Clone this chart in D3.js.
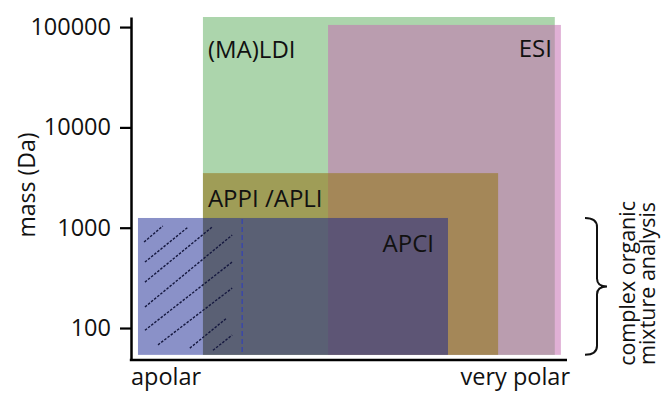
<!DOCTYPE html>
<html>
<head>
  <title>Ionization techniques</title>
  <script src="https://d3js.org/d3.v7.min.js"></script>
  <style>
    body { margin: 0; background: #fff; }
    text { font-family: "Open Sans", "Noto Sans", sans-serif; fill: #111; }
  </style>
</head>
<body>
  <div id="chart"></div>

  <script>
    // ionization regions: polarity (0 = apolar .. 100 = very polar) and mass (Da)
    const techniques = ["(MA)LDI", "ESI", "APPI /APLI", "APCI"];
    const polarFrom = [16.5, 45.2, 16.5, 1.6];
    const polarTo = [97.2, 98.6, 84.2, 72.7];
    const massTop = [126000, 105000, 3500, 1250];
    const massBottom = [54, 54, 54, 54];
    const fills = ["#acd5ac", "rgb(199,111,179)", "rgb(150,120,30)", "rgb(21,35,145)"];
    const opacities = [1, 0.55, 0.6, 0.5];

    const massTicks = [100, 1000, 10000, 100000];
    const polarLabels = ["apolar", "very polar"];

    // hand-drawn hatch strokes in the apolar corner: [polarity, mass] pairs
    const hatchLines = [
      [[3.0, 720], [7.3, 1040]],
      [[3.2, 455], [13.1, 1015]],
      [[3.2, 287], [18.6, 1015]],
      [[3.2, 162], [23.2, 845]],
      [[3.2, 95], [23.2, 455]],
      [[6.2, 68], [23.2, 250]],
      [[13.5, 63], [22.0, 126]],
      [[18.8, 60], [23.2, 85]]
    ];
    const dashedPolarity = 25.5;
    const dashedMass = [1220, 56];

    const width = 662;
    const height = 394;

    const svg = d3.select("#chart")
      .append("svg")
      .attr("width", width)
      .attr("height", height);

    const xScale = d3.scaleLinear()
      .domain([0, 100])
      .range([131, 567]);

    const yScale = d3.scaleLog()
      .domain([48, 126000])
      .range([360, 17]);

    // boxes
    svg.selectAll("rect.region")
      .data(techniques)
      .enter()
      .append("rect")
      .attr("class", "region")
      .attr("x", (d, i) => xScale(polarFrom[i]))
      .attr("y", (d, i) => yScale(massTop[i]))
      .attr("width", (d, i) => xScale(polarTo[i]) - xScale(polarFrom[i]))
      .attr("height", (d, i) => yScale(massBottom[i]) - yScale(massTop[i]))
      .attr("fill", (d, i) => fills[i])
      .attr("fill-opacity", (d, i) => opacities[i]);

    // hatching
    svg.selectAll("line.hatch")
      .data(hatchLines)
      .enter()
      .append("line")
      .attr("class", "hatch")
      .attr("x1", d => xScale(d[0][0]))
      .attr("y1", d => yScale(d[0][1]))
      .attr("x2", d => xScale(d[1][0]))
      .attr("y2", d => yScale(d[1][1]))
      .attr("stroke", "#15183f")
      .attr("stroke-width", 1.4)
      .attr("stroke-dasharray", "2.5,1.5");

    svg.append("line")
      .attr("x1", xScale(dashedPolarity))
      .attr("x2", xScale(dashedPolarity))
      .attr("y1", yScale(dashedMass[0]))
      .attr("y2", yScale(dashedMass[1]))
      .attr("stroke", "#3a48a8")
      .attr("stroke-width", 1.5)
      .attr("stroke-dasharray", "5,3");

    // labels inside the boxes
    const labelPos = [
      { dx: 5, dy: 41, anchor: "start", from: "left" },
      { dx: -9, dy: 32, anchor: "end", from: "right" },
      { dx: 5, dy: 34, anchor: "start", from: "left" },
      { dx: -14, dy: 34, anchor: "end", from: "right" }
    ];
    svg.selectAll("text.region-label")
      .data(techniques)
      .enter()
      .append("text")
      .attr("class", "region-label")
      .attr("x", (d, i) => (labelPos[i].from === "left" ? xScale(polarFrom[i]) : xScale(polarTo[i])) + labelPos[i].dx)
      .attr("y", (d, i) => yScale(massTop[i]) + labelPos[i].dy)
      .attr("text-anchor", (d, i) => labelPos[i].anchor)
      .attr("font-size", 24)
      .text(d => d);

    // y axis
    const yAxis = d3.axisLeft(yScale)
      .tickValues(massTicks)
      .tickFormat(d3.format("d"))
      .tickSize(11)
      .tickSizeOuter(0)
      .tickPadding(9);

    const gy = svg.append("g")
      .attr("transform", `translate(${xScale(0)}, 0)`)
      .call(yAxis);
    gy.select(".domain").attr("stroke", "#000").attr("stroke-width", 2.5);
    gy.selectAll(".tick line").attr("stroke", "#000").attr("stroke-width", 2.2);
    gy.selectAll(".tick text")
      .attr("font-size", 23.5)
      .attr("font-family", "Open Sans, Noto Sans, sans-serif")
      .attr("fill", "#111");

    svg.append("text")
      .attr("transform", "translate(35, 185) rotate(-90)")
      .attr("text-anchor", "middle")
      .attr("font-size", 23)
      .text("mass (Da)");

    // x axis line and end labels
    svg.append("line")
      .attr("x1", xScale(0) - 1.2)
      .attr("x2", xScale(100))
      .attr("y1", yScale.range()[0])
      .attr("y2", yScale.range()[0])
      .attr("stroke", "#000")
      .attr("stroke-width", 2.5);

    svg.selectAll("text.polar")
      .data(polarLabels)
      .enter()
      .append("text")
      .attr("class", "polar")
      .attr("x", (d, i) => i === 0 ? xScale(0) : xScale(100) + 3)
      .attr("y", 385)
      .attr("text-anchor", (d, i) => i === 0 ? "start" : "end")
      .attr("font-size", 23.5)
      .text(d => d);

    // brace for complex organic mixture analysis
    const bTop = yScale(massTop[3]);
    const bBot = yScale(massBottom[3]);
    const bMid = (bTop + bBot) / 2;
    const bx = 597;
    svg.append("path")
      .attr("d", `M${bx - 12},${bTop} Q${bx},${bTop} ${bx},${bTop + 9}
        L${bx},${bMid - 8} Q${bx},${bMid} ${bx + 10},${bMid}
        Q${bx},${bMid} ${bx},${bMid + 8}
        L${bx},${bBot - 9} Q${bx},${bBot} ${bx - 12},${bBot}`)
      .attr("fill", "none")
      .attr("stroke", "#111")
      .attr("stroke-width", 2);

    const braceText = ["complex organic", "mixture analysis"];
    svg.selectAll("text.brace")
      .data(braceText)
      .enter()
      .append("text")
      .attr("class", "brace")
      .attr("transform", (d, i) => `translate(${635 + i * 19.5}, ${bMid - 3}) rotate(-90)`)
      .attr("text-anchor", "middle")
      .attr("font-size", 21.5)
      .text(d => d);
  </script>
</body>
</html>
